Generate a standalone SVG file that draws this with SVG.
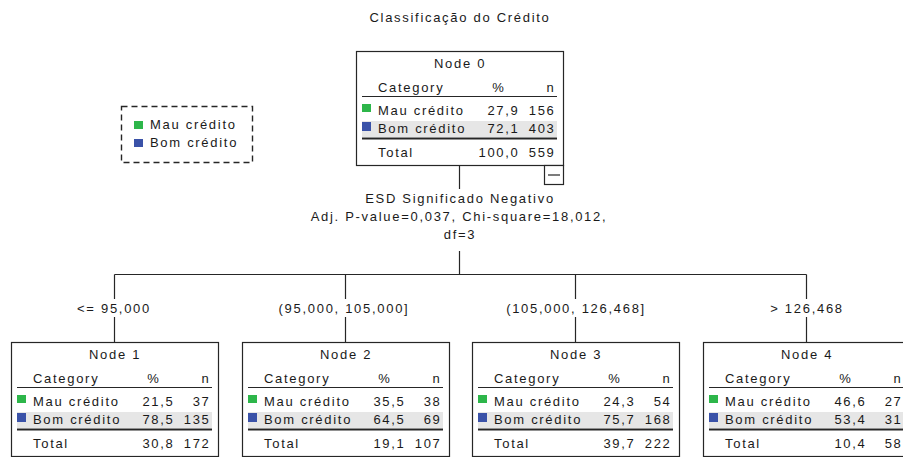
<svg xmlns="http://www.w3.org/2000/svg" width="903" height="457" viewBox="0 0 903 457">
  <style>
    text { font-family: "Liberation Sans", Arial, sans-serif; font-size: 13px; letter-spacing: 1.7px; fill: #1a1a1a; }
    .mid { text-anchor: middle; }
    .end { text-anchor: end; }
    .box { fill: #ffffff; stroke: #262626; stroke-width: 1.2; }
    .rule { stroke: #262626; stroke-width: 1.2; }
    .rule2 { stroke: #262626; stroke-width: 2; }
    .hl { fill: #e6e6e6; }
    .good { fill: #2db64a; }
    .bad { fill: #3a52a8; }
    .conn { stroke: #262626; stroke-width: 1.2; fill: none; }
    .legend { fill: #ffffff; stroke: #262626; stroke-width: 1.4; stroke-dasharray: 6 4; }
  </style>
  <defs>
    <!-- shared node table: header, rows, rules -->
    <g id="table">
      <rect class="box" x="0.5" y="0.5" width="207" height="114"/>
      <text x="22" y="41">Category</text>
      <text class="mid" x="143" y="41">%</text>
      <text class="end" x="199.5" y="41">n</text>
      <line class="rule" x1="6" y1="45.5" x2="201" y2="45.5"/>
      <rect class="good" x="6" y="53" width="9" height="8"/>
      <text x="22" y="64">Mau crédito</text>
      <rect class="hl" x="6" y="70" width="195" height="16"/>
      <rect class="bad" x="6" y="71" width="9" height="9"/>
      <text x="22" y="82">Bom crédito</text>
      <line class="rule2" x1="6" y1="87.5" x2="201" y2="87.5"/>
      <text x="22" y="106">Total</text>
    </g>
  </defs>

  <text class="mid" x="460" y="22">Classificação do Crédito</text>

  <!-- legend -->
  <g id="legend">
    <rect class="legend" x="121.5" y="106.5" width="131" height="56"/>
    <rect class="good" x="134" y="121" width="9" height="8"/>
    <text x="150" y="129">Mau crédito</text>
    <rect class="bad" x="134" y="139" width="9" height="8"/>
    <text x="150" y="147">Bom crédito</text>
  </g>

  <!-- connectors -->
  <g id="connectors">
    <line class="conn" x1="459.5" y1="165" x2="459.5" y2="189"/>
    <line class="conn" x1="459.5" y1="251" x2="459.5" y2="274.5"/>
    <line class="conn" x1="114.5" y1="274.5" x2="806.5" y2="274.5"/>
    <line class="conn" x1="114.5" y1="274.5" x2="114.5" y2="299"/>
    <line class="conn" x1="345.5" y1="274.5" x2="345.5" y2="299"/>
    <line class="conn" x1="575.5" y1="274.5" x2="575.5" y2="299"/>
    <line class="conn" x1="806.5" y1="274.5" x2="806.5" y2="299"/>
    <line class="conn" x1="114.5" y1="317" x2="114.5" y2="342"/>
    <line class="conn" x1="345.5" y1="317" x2="345.5" y2="342"/>
    <line class="conn" x1="575.5" y1="317" x2="575.5" y2="342"/>
    <line class="conn" x1="806.5" y1="317" x2="806.5" y2="342"/>
    <text class="mid" x="114" y="313">&lt;= 95,000</text>
    <text class="mid" x="344" y="313">(95,000, 105,000]</text>
    <text class="mid" x="576" y="313">(105,000, 126,468]</text>
    <text class="mid" x="807" y="313">&gt; 126,468</text>
    <text class="mid" x="460" y="203">ESD Significado Negativo</text>
    <text class="mid" x="459" y="221">Adj. P-value=0,037, Chi-square=18,012,</text>
    <text class="mid" x="460" y="239">df=3</text>
  </g>

  <g id="node0" transform="translate(356,51)">
    <use href="#table"/>
    <text class="mid" x="104" y="17">Node 0</text>
    <text class="end" x="163.5" y="64">27,9</text>
    <text class="end" x="199.5" y="64">156</text>
    <text class="end" x="163.5" y="82">72,1</text>
    <text class="end" x="199.5" y="82">403</text>
    <text class="end" x="163.5" y="106">100,0</text>
    <text class="end" x="199.5" y="106">559</text>
    <rect class="box" x="188.5" y="114.5" width="19" height="19"/>
    <line class="rule" x1="192" y1="124" x2="204" y2="124"/>
  </g>

  <g id="node1" transform="translate(11,342)">
    <use href="#table"/>
    <text class="mid" x="104" y="17">Node 1</text>
    <text class="end" x="163.5" y="64">21,5</text>
    <text class="end" x="199.5" y="64">37</text>
    <text class="end" x="163.5" y="82">78,5</text>
    <text class="end" x="199.5" y="82">135</text>
    <text class="end" x="163.5" y="106">30,8</text>
    <text class="end" x="199.5" y="106">172</text>
  </g>

  <g id="node2" transform="translate(242,342)">
    <use href="#table"/>
    <text class="mid" x="104" y="17">Node 2</text>
    <text class="end" x="163.5" y="64">35,5</text>
    <text class="end" x="199.5" y="64">38</text>
    <text class="end" x="163.5" y="82">64,5</text>
    <text class="end" x="199.5" y="82">69</text>
    <text class="end" x="163.5" y="106">19,1</text>
    <text class="end" x="199.5" y="106">107</text>
  </g>

  <g id="node3" transform="translate(472,342)">
    <use href="#table"/>
    <text class="mid" x="104" y="17">Node 3</text>
    <text class="end" x="163.5" y="64">24,3</text>
    <text class="end" x="199.5" y="64">54</text>
    <text class="end" x="163.5" y="82">75,7</text>
    <text class="end" x="199.5" y="82">168</text>
    <text class="end" x="163.5" y="106">39,7</text>
    <text class="end" x="199.5" y="106">222</text>
  </g>

  <g id="node4" transform="translate(703,342)">
    <use href="#table"/>
    <text class="mid" x="104" y="17">Node 4</text>
    <text class="end" x="163.5" y="64">46,6</text>
    <text class="end" x="199.5" y="64">27</text>
    <text class="end" x="163.5" y="82">53,4</text>
    <text class="end" x="199.5" y="82">31</text>
    <text class="end" x="163.5" y="106">10,4</text>
    <text class="end" x="199.5" y="106">58</text>
  </g>
</svg>
